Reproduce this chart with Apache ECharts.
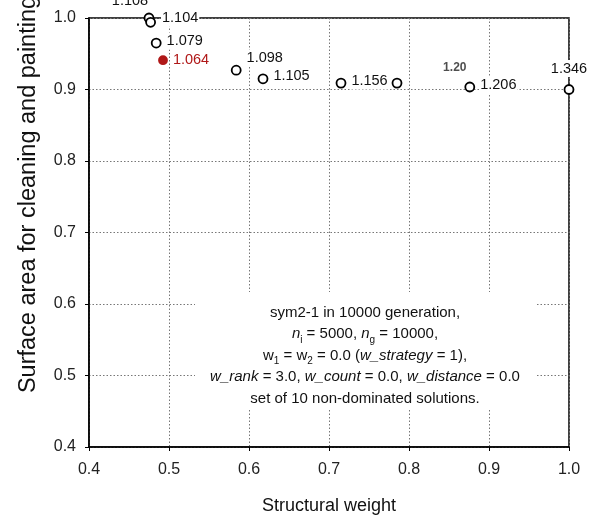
<!DOCTYPE html>
<html>
<head>
<meta charset="utf-8">
<script src="https://cdn.jsdelivr.net/npm/echarts@6/dist/echarts.min.js"></script>
<style>
html,body{margin:0;padding:0;background:#fff;}
#chart{width:598px;height:518px;}
</style>
</head>
<body>
<div id="chart"></div>
<script>
// ---- data ----
const xValues = [0.475, 0.477, 0.484, 0.4925, 0.584, 0.6175, 0.715, 0.785, 0.876, 1.0];
const yValues = [1.0, 0.994, 0.965, 0.941, 0.927, 0.915, 0.909, 0.909, 0.9035, 0.900];
const pointLabels = ['1.108', '1.104', '1.079', '1.064', '1.098', '1.105', '1.156', '', '1.206', '1.346'];
const highlightedLabel = '1.064';
const extraLabelText = '1.20';
const extraLabelPoint = 8;
const xTicks = [0.4, 0.5, 0.6, 0.7, 0.8, 0.9, 1.0];
const yTicks = [0.4, 0.5, 0.6, 0.7, 0.8, 0.9, 1.0];
const xTitle = 'Structural weight';
const yTitle = 'Surface area for cleaning and painting';
const noteLines = [
  'sym2-1 in 10000 generation,',
  '{i|n}{sub|i} = 5000, {i|n}{sub|g} = 10000,',
  'w{sub|1} = w{sub|2} = 0.0 ({i|w_strategy} = 1),',
  '{i|w_rank} = 3.0, {i|w_count} = 0.0, {i|w_distance} = 0.0',
  'set of 10 non-dominated solutions.'
];

// ---- label placement (style) ----
const placement = {
  '1.108': {position: 'top', distance: 5, offset: [-19, 2]},
  '1.104': {position: 'right', distance: 5, offset: [0, -4]},
  '1.079': {position: 'right', distance: 4, offset: [0, -2]},
  '1.064': {position: 'right', distance: 4, offset: [0, 0]},
  '1.098': {position: 'right', distance: 4, offset: [0, -12]},
  '1.105': {position: 'right', distance: 4, offset: [0, -3]},
  '1.156': {position: 'right', distance: 4, offset: [0, -2]},
  '1.206': {position: 'right', distance: 4, offset: [0, -2]},
  '1.346': {position: 'top', distance: 7, offset: [0, 0]}
};

const font = '"Liberation Sans", Arial, sans-serif';

const mainData = xValues.map((x, i) => {
  const lab = pointLabels[i];
  const hl = lab === highlightedLabel;
  const p = placement[lab];
  const item = {value: [x, yValues[i]]};
  if (hl) {
    item.itemStyle = {color: '#b01818', borderColor: '#b01818'};
    item.symbolSize = 8;
  }
  if (lab) {
    item.label = {
      show: true, formatter: lab, position: p.position, distance: p.distance, offset: p.offset,
      color: hl ? '#b01818' : '#111'
    };
  } else {
    item.label = {show: false};
  }
  return item;
});

const extraData = [{value: [xValues[extraLabelPoint], yValues[extraLabelPoint]]}];

const chart = echarts.init(document.getElementById('chart'), null, {renderer: 'canvas'});
chart.setOption({
  animation: false,
  backgroundColor: '#fff',
  grid: {left: 89, right: 29, top: 18, bottom: 71, containLabel: false, outerBoundsMode: 'none',
    show: true, borderColor: '#000', borderWidth: 1.5, backgroundColor: 'transparent'},
  xAxis: {
    type: 'value', min: 0.4, max: 1.0, interval: 0.1,
    name: xTitle, nameLocation: 'middle', nameGap: 50,
    nameTextStyle: {fontFamily: font, fontSize: 18, color: '#111'},
    axisLine: {show: true, onZero: false, lineStyle: {color: '#000', width: 1.5}},
    axisTick: {show: true, length: 4, lineStyle: {color: '#000', width: 1}},
    axisLabel: {fontFamily: font, fontSize: 16, color: '#222', margin: 15,
      formatter: v => xTicks.find(t => Math.abs(t - v) < 1e-9).toFixed(1)},
    splitLine: {show: true, lineStyle: {color: '#777', type: [1.5, 2], width: 1}}
  },
  yAxis: {
    type: 'value', min: 0.4, max: 1.0, interval: 0.1,
    name: yTitle, nameLocation: 'middle', nameGap: 48,
    nameTextStyle: {fontFamily: font, fontSize: 23.5, color: '#111', padding: [0, 0, 0, 76]},
    axisLine: {show: true, onZero: false, lineStyle: {color: '#000', width: 1.5}},
    axisTick: {show: true, length: 4, lineStyle: {color: '#000', width: 1}},
    axisLabel: {fontFamily: font, fontSize: 16, color: '#222', margin: 13,
      formatter: v => yTicks.find(t => Math.abs(t - v) < 1e-9).toFixed(1)},
    splitLine: {show: true, lineStyle: {color: '#777', type: [1.5, 2], width: 1}}
  },
  graphic: [
    {type: 'rect', z: 50, shape: {x: 195, y: 292, width: 340, height: 116}, style: {fill: '#fff'}},
    {type: 'text', z: 51, x: 365, y: 302, style: {
      text: noteLines.join('\n'), align: 'center', verticalAlign: 'top',
      fontFamily: font, fontSize: 15, lineHeight: 21.5, fill: '#111',
      rich: {
        i: {fontStyle: 'italic', fontFamily: font, fontSize: 15, fill: '#111'},
        sub: {fontFamily: font, fontSize: 10, verticalAlign: 'bottom', lineHeight: 13, fill: '#111'}
      }
    }}
  ],
  series: [
    {
      type: 'scatter', clip: false, z: 10,
      symbol: 'circle', symbolSize: 9,
      itemStyle: {color: '#fff', borderColor: '#000', borderWidth: 1.8, opacity: 1},
      label: {fontFamily: font, fontSize: 14.5, backgroundColor: '#fff', padding: [1, 1]},
      data: mainData
    },
    {
      type: 'scatter', clip: false, z: 9,
      symbolSize: 0, silent: true,
      label: {show: true, formatter: extraLabelText, position: 'top', distance: 5, offset: [-15, -8],
        fontFamily: font, fontSize: 12, fontWeight: 'bold', color: '#222'},
      data: extraData
    }
  ]
});
</script>
</body>
</html>
